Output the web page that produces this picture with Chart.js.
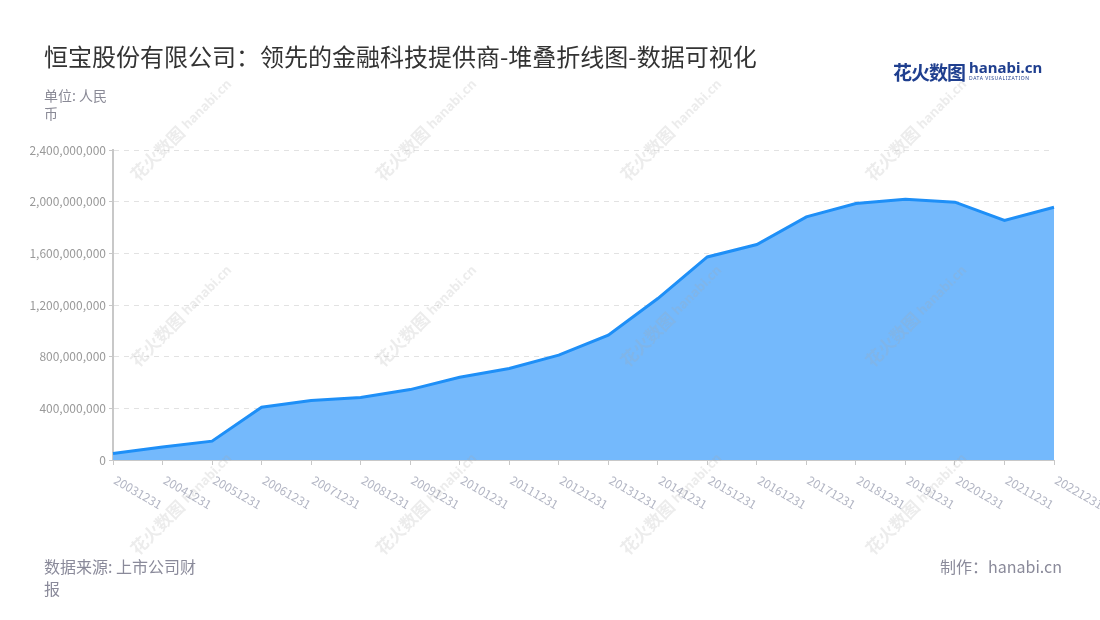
<!DOCTYPE html>
<html>
<head>
<meta charset="utf-8">
<script src="https://cdn.jsdelivr.net/npm/chart.js@4"></script>
<style>
    body { margin: 0; background: #fff; font-family: "Noto Sans CJK SC", "Noto Sans", sans-serif; }
    #wrap { position: relative; width: 1100px; height: 620px; overflow: hidden; }
    #chart { position: absolute; left: 0; top: 0; }
    .title { position: absolute; left: 44px; top: 38px; font-size: 24px; color: #333; white-space: nowrap; }
    .unit { position: absolute; left: 44px; top: 86px; width: 70px; font-size: 14px; line-height: 18px; color: #8a8a96; }
    .source { position: absolute; left: 44px; top: 555px; width: 160px; font-size: 16px; line-height: 22px; color: #8a8a9a; }
    .maker { position: absolute; right: 38px; top: 555px; font-size: 16px; line-height: 22px; color: #8a8a9a; }
    .logo { position: absolute; left: 893px; top: 58px; white-space: nowrap; }
    .logo .cn { font-size: 19px; font-weight: 700; color: #1f3f8f; letter-spacing: -1px; vertical-align: top; }
    .logo .en { display: inline-block; vertical-align: top; margin-left: 4px; line-height: 1; }
    .logo .en b { display: block; font-family: "Noto Sans", sans-serif; font-size: 15px; font-weight: 700; color: #1f3f8f; margin-top: 2px; }
    .logo .en i { display: block; font-style: normal; font-family: "Noto Sans", sans-serif; font-size: 5px; letter-spacing: 0.6px; color: #1f3f8f; margin-top: 1px; }
</style>
</head>
<body>
<div id="wrap">
    <canvas id="chart" width="1100" height="620"></canvas>
    <div class="title">恒宝股份有限公司：领先的金融科技提供商-堆叠折线图-数据可视化</div>
    <div class="unit">单位: 人民币</div>
    <div class="logo"><span class="cn">花火数图</span><span class="en"><b>hanabi.cn</b><i>DATA VISUALIZATION</i></span></div>
    <div class="source">数据来源: 上市公司财报</div>
    <div class="maker">制作：hanabi.cn</div>
</div>
<script>
const years = ['20031231', '20041231', '20051231', '20061231', '20071231', '20081231', '20091231',
    '20101231', '20111231', '20121231', '20131231', '20141231', '20151231', '20161231',
    '20171231', '20181231', '20191231', '20201231', '20211231', '20221231'];

const revenue = [50e6, 100e6, 146e6, 408e6, 460e6, 484e6, 545e6,
    640e6, 708e6, 812e6, 967e6, 1250e6, 1572e6, 1668e6,
    1882e6, 1986e6, 2019e6, 1996e6, 1854e6, 1957e6];

const yTicks = [0, 400e6, 800e6, 1200e6, 1600e6, 2000e6, 2400e6];

// rotated x labels, text starting at the tick and running down-right
const xLabels = {
    id: 'xLabels',
    afterDraw(chart) {
        const ctx = chart.ctx;
        const xs = chart.scales.x;
        ctx.save();
        ctx.font = '12px "Noto Sans CJK SC", "Noto Sans", sans-serif';
        ctx.fillStyle = '#b3b6c4';
        ctx.textAlign = 'left';
        ctx.textBaseline = 'middle';
        years.forEach((label, i) => {
            const x = xs.getPixelForValue(i);
            ctx.save();
            ctx.translate(x + 2, xs.top + 19);
            ctx.rotate(Math.PI / 6);
            ctx.fillText(label, 0, 0);
            ctx.restore();
        });
        ctx.restore();
    }
};

// faint site watermark
const watermark = {
    id: 'watermark',
    afterDraw(chart) {
        const ctx = chart.ctx;
        ctx.save();
        ctx.fillStyle = 'rgba(170,170,170,0.22)';
        ctx.textBaseline = 'alphabetic';
        [138, 383, 628, 873].forEach(x => {
            [182, 368, 556].forEach(y => {
                ctx.save();
                ctx.translate(x, y);
                ctx.rotate(-Math.PI / 4);
                ctx.font = 'bold 17px "Noto Sans CJK SC", sans-serif';
                ctx.fillText('花火数图', 0, 0);
                ctx.font = 'bold 13px "Noto Sans", sans-serif';
                ctx.fillText('hanabi.cn', 72, -2);
                ctx.restore();
            });
        });
        ctx.restore();
    }
};

new Chart(document.getElementById('chart'), {
    type: 'line',
    data: {
        labels: years,
        datasets: [{
            label: '营业收入',
            data: revenue,
            borderColor: '#1e8ff7',
            backgroundColor: '#74b9fc',
            borderWidth: 3,
            fill: 'origin',
            tension: 0,
            pointRadius: 0
        }]
    },
    options: {
        responsive: false,
        animation: false,
        layout: { padding: { left: 0, right: 46, top: 150, bottom: 0 } },
        plugins: {
            legend: { display: false },
            tooltip: { enabled: false }
        },
        scales: {
            x: {
                offset: false,
                afterFit: s => { s.height = 160; },
                grid: {
                    drawOnChartArea: false,
                    drawTicks: true,
                    tickLength: 5,
                    tickColor: '#c8c8c8'
                },
                border: { color: '#c8c8c8', width: 1 },
                ticks: { display: false }
            },
            y: {
                min: 0,
                max: 2400e6,
                afterFit: s => { s.width = 113; },
                afterBuildTicks: s => { s.ticks = yTicks.map(v => ({ value: v })); },
                grid: {
                    color: '#e2e2e2',
                    drawTicks: true,
                    tickLength: 4,
                    tickColor: '#c8c8c8',
                    tickBorderDash: []
                },
                border: { color: '#c8c8c8', width: 2, dash: [5, 5] },
                ticks: {
                    color: '#999',
                    padding: 3,
                    font: { size: 12, family: '"Noto Sans CJK SC", "Noto Sans", sans-serif' },
                    callback: v => v.toLocaleString('en-US')
                }
            }
        }
    },
    plugins: [xLabels, watermark]
});
</script>
</body>
</html>
